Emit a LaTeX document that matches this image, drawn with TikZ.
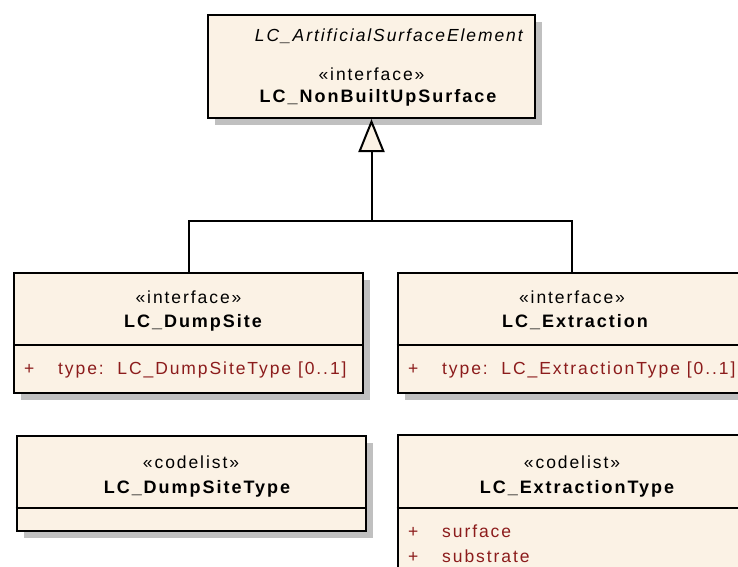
\documentclass[tikz,border=0pt]{standalone}
\usepackage{fontspec}
\setmainfont{Liberation Sans}[LetterSpace=11]
\usetikzlibrary{shadows,arrows.meta,positioning}
\definecolor{umlfill}{RGB}{251,242,229}
\definecolor{umlshadow}{RGB}{192,192,192}
\definecolor{umlred}{RGB}{140,28,28}

\begin{document}
\begin{tikzpicture}
[x=1pt, y=-1pt,
 >={Triangle[length=33pt,width=26pt,fill=umlfill]},
 umlbox/.style={shape=rectangle,draw,line width=2pt,fill=umlfill,minimum width=349pt,
   drop shadow={shadow xshift=7pt,shadow yshift=-7pt,fill=umlshadow,opacity=1}},
 divider/.style={line width=2pt},
 conn/.style={line width=2pt},
 stereo/.style={font=\fontsize{17.5}{20}\selectfont,inner sep=0pt,anchor=base},
 cname/.style={font=\fontsize{18}{20}\selectfont\bfseries,inner sep=0pt,anchor=base},
 attr/.style={font=\fontsize{17.5}{20}\selectfont,text=umlred,inner sep=0pt,anchor=base west}]
\useasboundingbox (0,0) rectangle (738,566);
% boxes
\node[umlbox,minimum width=327pt,minimum height=103pt] (surf) at (371.5,66.5) {};
\node[umlbox,minimum height=120pt] (dump) at (188.5,333) {};
\node[umlbox,minimum height=120pt] (extr) at (572,333) {};
\node[umlbox,minimum height=95pt] (dtype) at (191,483.5) {};
\node[umlbox,minimum height=160pt] (etype) at (572,515) {};
\draw[divider] ([yshift=-73pt]dump.north west) -- ([yshift=-73pt]dump.north east);
\draw[divider] ([yshift=-73pt]extr.north west) -- ([yshift=-73pt]extr.north east);
\draw[divider] ([yshift=-73pt]dtype.north west) -- ([yshift=-73pt]dtype.north east);
\draw[divider] ([yshift=-74pt]etype.north west) -- ([yshift=-74pt]etype.north east);
% texts
\node[stereo,font=\fontsize{17.5}{20}\selectfont\itshape,anchor=base east] (surfpar) at (523,41) {LC\_ArtificialSurfaceElement};
\node[stereo] (surfst) at (371.5,80) {«interface»};
\node[cname] (surfnm) at (378,102) {LC\_NonBuiltUpSurface};
\node[stereo] (dumpst) at (188.5,303) {«interface»};
\node[cname] (dumpnm) at (193,327) {LC\_DumpSite};
\node[attr] (dumpplus) at (24,374) {+};
\node[attr] (dumpatt) at (58,374) {type:\ \ LC\_DumpSiteType [0..1]};
\node[stereo] (extrst) at (572,303) {«interface»};
\node[cname] (extrnm) at (575,327) {LC\_Extraction};
\node[attr] (extrplus) at (408,374) {+};
\node[attr] (extratt) at (442,374) {type:\ \ LC\_ExtractionType [0..1]};
\node[stereo] (dtypest) at (191,468) {«codelist»};
\node[cname] (dtypenm) at (197,493) {LC\_DumpSiteType};
\node[stereo] (etypest) at (572,468) {«codelist»};
\node[cname] (etypenm) at (577,493) {LC\_ExtractionType};
\node[attr] (etplus1) at (408,537) {+};
\node[attr] (etval1) at (442,537) {surface};
\node[attr] (etplus2) at (408,562) {+};
\node[attr] (etval2) at (442,562) {substrate};
% generalisation
\coordinate (fork) at (371.5,221);
\draw[conn] (dump.north) |- (fork) -| (extr.north);
\draw[conn,->] (fork) -- (surf.south);
\end{tikzpicture}
\end{document}
